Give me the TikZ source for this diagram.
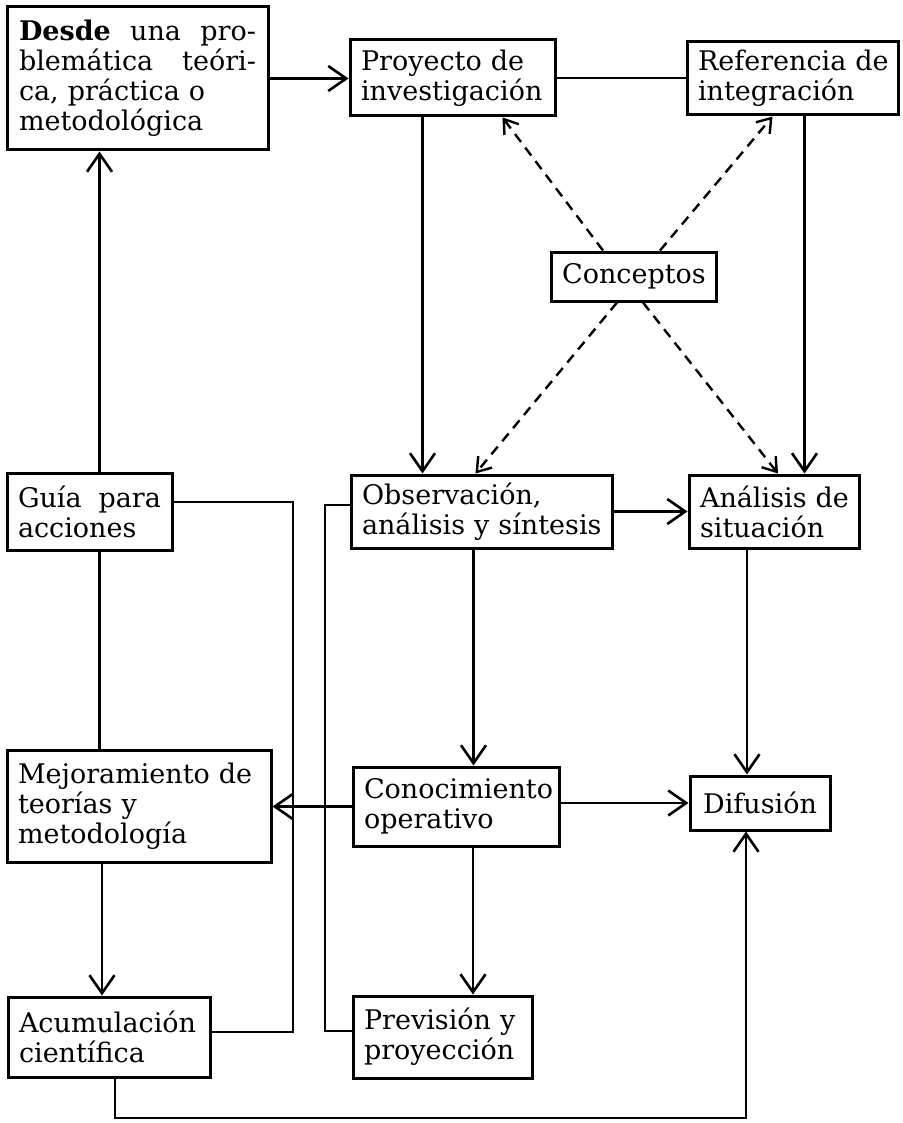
\documentclass[tikz,border=0pt]{standalone}
\usepackage{fontspec}
\setmainfont{DejaVu Serif}
\usepackage{tikz}
\usetikzlibrary{arrows.meta}
\hyphenpenalty=10000
\tikzset{
    block/.style={rectangle, draw, line width=3pt, inner xsep=11pt, inner ysep=4pt, align=left, font=\fontsize{27}{30}\selectfont},
    arrow/.style={-{Straight Barb[length=18pt, width=25pt]}, line width=2.6pt},
    link/.style={line width=2.6pt},
    dasharrow/.style={-{Straight Barb[length=13pt, width=18pt]}, line width=2.4pt, dash pattern=on 10pt off 7pt}
}

\begin{document}
\begin{tikzpicture}[x=1pt, y=-1pt]
\useasboundingbox (0,0) rectangle (902,1123);

\node[block, minimum width=261pt, minimum height=143pt, text width=237pt] (desde) at (137.5,78.5) {\textbf{Desde}\hfill una\hfill pro-\\blemática\hfill teóri-\\ca,~práctica~o\\metodológica};
\node[block, minimum width=205pt, minimum height=76pt, text width=183pt] (proyecto) at (452.5,78) {Proyecto~de\\investigación};
\node[block, minimum width=211pt, minimum height=73pt, text width=189pt] (referencia) at (792.5,78.5) {Referencia~de\\integración};
\node[block, align=center, minimum width=154pt, minimum height=49pt] (conceptos) at (634,276.5) {Conceptos};
\node[block, minimum width=165pt, minimum height=77pt, text width=143pt] (guia) at (89.5,511.5) {Guía\hfill para\\acciones};
\node[block, minimum width=261pt, minimum height=73pt, text width=239pt] (observacion) at (481.5,511.5) {Observación,\\análisis~y~síntesis};
\node[block, minimum width=170pt, minimum height=73pt, text width=148pt] (situacion) at (774,511.5) {Análisis~de\\situación};
\node[block, minimum width=264pt, minimum height=112pt, text width=242pt] (mejora) at (139,806) {Mejoramiento~de\\teorías~y\\metodología};
\node[block, minimum width=206pt, minimum height=79pt, text width=184pt] (conocimiento) at (456,806.5) {Conocimiento\\operativo};
\node[block, align=center, minimum width=140pt, minimum height=54pt] (difusion) at (760,803) {Difusión};
\node[block, minimum width=202pt, minimum height=80pt, text width=180pt] (acumulacion) at (109,1037) {Acumulación\\científica};
\node[block, minimum width=179pt, minimum height=82pt, text width=157pt] (prevision) at (442.5,1037) {Previsión~y\\proyección};

\coordinate (guiacorner) at (293,1032);
\coordinate (obscorner) at (325,1031);
\coordinate (basecorner) at (746,1118);

\draw[arrow] (desde.east) -- (desde.east -| proyecto.west);
\draw[link] (proyecto.east) -- (proyecto.east -| referencia.west);
\draw[arrow] ([xshift=-30pt]proyecto.south) -- ([xshift=-30pt]proyecto.south |- observacion.north);
\draw[arrow] ([xshift=12pt]referencia.south) -- ([xshift=12pt]referencia.south |- situacion.north);
\draw[dasharrow] ([xshift=-31pt]conceptos.north) -- ([xshift=50pt]proyecto.south);
\draw[dasharrow] ([xshift=26pt]conceptos.north) -- ([xshift=-20pt]referencia.south);
\draw[dasharrow] ([xshift=-17pt]conceptos.south) -- ([xshift=-6pt]observacion.north);
\draw[dasharrow] ([xshift=9pt]conceptos.south) -- ([xshift=4pt]situacion.north);
\draw[arrow] ([xshift=10pt]guia.north) -- ([xshift=10pt]guia.north |- desde.south);
\draw[link] ([xshift=10pt]guia.south) -- ([xshift=10pt]guia.south |- mejora.north);
\draw[arrow] (observacion.east) -- (situacion.west);
\draw[arrow] ([xshift=-8pt]observacion.south) -- ([xshift=-8pt]observacion.south |- conocimiento.north);
\draw[arrow] ([xshift=-27pt]situacion.south) -- ([xshift=-27pt]situacion.south |- difusion.north);
\draw[arrow] (conocimiento.west) -- (conocimiento.west -| mejora.east);
\draw[arrow] (conocimiento.east |- difusion.west) -- (difusion.west);
\draw[arrow] ([xshift=17pt]conocimiento.south) -- ([xshift=17pt]conocimiento.south |- prevision.north);
\draw[arrow] ([xshift=-37pt]mejora.south) -- ([xshift=-37pt]mejora.south |- acumulacion.north);
\draw[link] ([yshift=9.5pt]guia.east) -| (guiacorner) -- (guiacorner -| acumulacion.east);
\draw[link] ([yshift=6.5pt]observacion.west) -| (obscorner) -- (obscorner -| prevision.west);
\draw[arrow] ([xshift=6pt]acumulacion.south) |- (basecorner) -- (basecorner |- difusion.south);

\end{tikzpicture}
\end{document}
